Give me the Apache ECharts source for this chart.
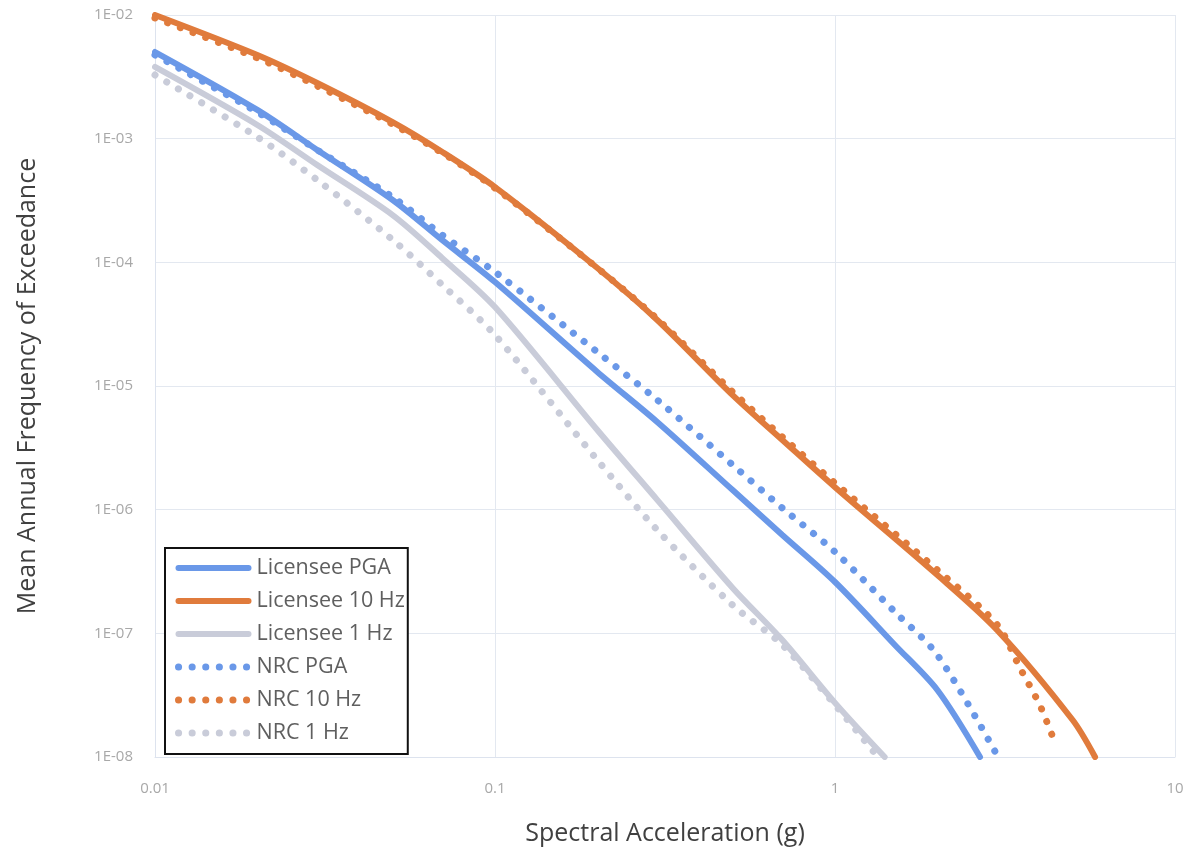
<!DOCTYPE html>
<html>
<head>
<meta charset="utf-8">
<script src="https://cdn.jsdelivr.net/npm/echarts@6/dist/echarts.min.js"></script>
<style>
html,body{margin:0;padding:0;background:#fff;}
#chart{width:1204px;height:856px;}
</style>
</head>
<body>
<div id="chart"></div>
<script>
// Spectral acceleration (g) and mean annual frequency of exceedance
const licPgaX = [0.01, 0.02, 0.03, 0.05, 0.07, 0.1, 0.2, 0.3, 0.5, 0.7, 1, 1.5, 2, 2.67];
const licPgaY = [5.02e-3, 1.71e-3, 8.1e-4, 3.19e-4, 1.51e-4, 6.93e-5, 1.30e-5, 5.12e-6, 1.44e-6, 6.24e-7, 2.60e-7, 8.05e-8, 3.48e-8, 1.0e-8];

const lic10X = [0.01, 0.02, 0.03, 0.05, 0.07, 0.1, 0.2, 0.3, 0.5, 0.7, 1, 2, 3, 5, 5.82];
const lic10Y = [1.0e-2, 4.75e-3, 2.82e-3, 1.36e-3, 7.8e-4, 4.06e-4, 9.0e-5, 3.42e-5, 8.45e-6, 3.66e-6, 1.52e-6, 2.96e-7, 1.06e-7, 1.99e-8, 1.0e-8];

const lic1X = [0.01, 0.02, 0.03, 0.05, 0.07, 0.1, 0.2, 0.3, 0.5, 0.7, 1, 1.4];
const lic1Y = [3.80e-3, 1.29e-3, 6.12e-4, 2.41e-4, 1.08e-4, 4.35e-5, 4.41e-6, 1.20e-6, 2.33e-7, 8.83e-8, 2.74e-8, 1.0e-8];

const nrcPgaX = [0.01, 0.02, 0.03, 0.05, 0.07, 0.1, 0.2, 0.3, 0.5, 0.7, 1, 1.5, 2, 2.96];
const nrcPgaY = [4.75e-3, 1.64e-3, 8.1e-4, 3.37e-4, 1.66e-4, 8.36e-5, 1.88e-5, 7.71e-6, 2.30e-6, 1.03e-6, 4.55e-7, 1.49e-7, 6.68e-8, 1.10e-8];

const nrc10X = [0.01, 0.02, 0.03, 0.05, 0.07, 0.1, 0.2, 0.3, 0.5, 0.7, 1, 2, 3, 3.5, 4, 4.37];
const nrc10Y = [9.46e-3, 4.49e-3, 2.67e-3, 1.31e-3, 7.66e-4, 3.99e-4, 9.0e-5, 3.48e-5, 8.95e-6, 3.87e-6, 1.64e-6, 3.25e-7, 1.17e-7, 5.25e-8, 2.64e-8, 1.45e-8];

const nrc1X = [0.01, 0.02, 0.03, 0.05, 0.07, 0.1, 0.2, 0.3, 0.5, 0.7, 1, 1.3];
const nrc1Y = [3.27e-3, 1.03e-3, 4.63e-4, 1.52e-4, 6.56e-5, 2.58e-5, 2.52e-6, 6.85e-7, 1.69e-7, 8.05e-8, 2.64e-8, 1.10e-8];

const xTickLabels = {0.01: '0.01', 0.1: '0.1', 1: '1', 10: '10'};
const yTickLabels = {'-2': '1E-02', '-3': '1E-03', '-4': '1E-04', '-5': '1E-05', '-6': '1E-06', '-7': '1E-07', '-8': '1E-08'};

const seriesNames = ['Licensee PGA', 'Licensee 10 Hz', 'Licensee 1 Hz', 'NRC PGA', 'NRC 10 Hz', 'NRC 1 Hz'];
const seriesX = [licPgaX, lic10X, lic1X, nrcPgaX, nrc10X, nrc1X];
const seriesY = [licPgaY, lic10Y, lic1Y, nrcPgaY, nrc10Y, nrc1Y];
const colors = ['#6a98e8', '#e07b3c', '#c9ccd9', '#6a98e8', '#e07b3c', '#c9ccd9'];
const dotted = [false, false, false, true, true, true];

function pairs(xs, ys) { return xs.map((x, i) => [x, ys[i]]); }

const chart = echarts.init(document.getElementById('chart'), null, {renderer: 'canvas'});
const FONT = '"Open Sans", Lato, sans-serif';

function lineStyleFor(i) {
  return dotted[i]
    ? {color: colors[i], width: 7, type: [0.1, 13.5], cap: 'round'}
    : {color: colors[i], width: 6, cap: 'round'};
}

const series = seriesNames.map((n, i) => ({
  name: n,
  type: 'line',
  smooth: 0.3,
  symbol: 'none',
  data: pairs(seriesX[i], seriesY[i]),
  z: dotted[i] ? 3 : 2,
  lineStyle: lineStyleFor(i),
  itemStyle: {color: colors[i]}
}));

chart.setOption({
  animation: false,
  backgroundColor: '#fff',
  grid: {left: 155, right: 29, top: 15, bottom: 99, containLabel: false},
  xAxis: {
    type: 'log', logBase: 10, min: 0.01, max: 10,
    name: 'Spectral Acceleration (g)', nameLocation: 'middle', nameGap: 64,
    nameTextStyle: {fontFamily: FONT, fontSize: 25, color: '#404040'},
    axisLine: {show: true, lineStyle: {color: '#dde3ee', width: 1}},
    axisTick: {show: false},
    minorTick: {show: false},
    splitLine: {show: true, lineStyle: {color: '#e3e8f0', width: 1}},
    axisLabel: {
      fontFamily: FONT, fontSize: 15, color: '#a8a8a8', margin: 24,
      formatter: v => xTickLabels[v] !== undefined ? xTickLabels[v] : ''
    }
  },
  yAxis: {
    type: 'log', logBase: 10, min: 1e-8, max: 1e-2,
    name: 'Mean Annual Frequency of Exceedance', nameLocation: 'middle', nameGap: 115,
    nameRotate: 90,
    nameTextStyle: {fontFamily: FONT, fontSize: 25, color: '#404040'},
    axisLine: {show: true, lineStyle: {color: '#dde3ee', width: 1}},
    axisTick: {show: false},
    splitLine: {show: true, lineStyle: {color: '#e3e8f0', width: 1}},
    axisLabel: {
      fontFamily: FONT, fontSize: 15, color: '#a8a8a8', margin: 22,
      formatter: v => {
        const e = Math.round(Math.log10(v));
        return yTickLabels[String(e)] || '';
      }
    }
  },
  legend: {
    orient: 'vertical',
    left: 165, top: 548,
    data: seriesNames.map((n, i) => ({
      name: n,
      itemStyle: {opacity: 0},
      lineStyle: lineStyleFor(i)
    })),
    backgroundColor: '#fff',
    borderColor: '#111',
    borderWidth: 2,
    borderRadius: 0,
    padding: [9, 3, 10, 10],
    itemWidth: 70,
    itemHeight: 10,
    itemGap: 11,
    textStyle: {fontFamily: FONT, fontSize: 21.5, color: '#5f5f5f', padding: [0, 0, 0, 3]},
    selectedMode: false
  },
  series: series
});
</script>
</body>
</html>
